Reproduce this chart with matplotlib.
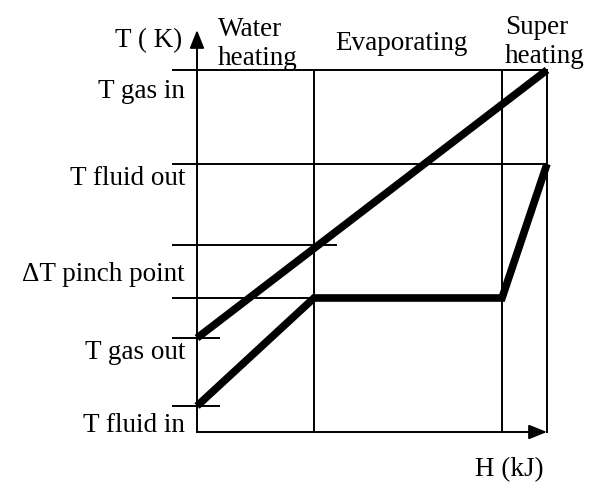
import matplotlib.pyplot as plt

# diagrama T-H da caldeira de recuperacao (valores esquematicos)
zonas = ['Water\nheating', 'Evaporating', 'Super\nheating']
H_pontos = [0, 117, 305, 350]          # inicio, inicio evaporacao, fim evaporacao, fim
gas_H = [0, 350]
gas_T = [94, 362]
fluido_H = [0, 117, 305, 350]
fluido_T = [26, 134, 134, 268]

rotulos_T = ['T gas in', 'T fluid out', '\u0394T pinch point', 'T gas out', 'T fluid in']
T_gas_in = 362
T_fluid_out = 268
T_gas_pinch = 187
T_pinch = 134
T_gas_out = 94
T_fluid_in = 26

plt.rcParams['font.family'] = ['Liberation Serif', 'DejaVu Serif']
fig = plt.figure(figsize=(5.96, 4.86), dpi=100)
ax = fig.add_axes([0, 0, 1, 1])
ax.set_xlim(-197, 399)
ax.set_ylim(-54, 432)
ax.axis('off')

fino = dict(color='black', lw=1.4)
x_esq = -24

# linhas guia horizontais
ax.plot([x_esq, H_pontos[3]], [T_gas_in, T_gas_in], **fino)
ax.plot([x_esq, H_pontos[3]], [T_fluid_out, T_fluid_out], **fino)
ax.plot([x_esq, 139], [T_gas_pinch, T_gas_pinch], **fino)
ax.plot([x_esq, H_pontos[1]], [T_pinch, T_pinch], **fino)
ax.plot([x_esq, 22], [T_gas_out, T_gas_out], **fino)
ax.plot([x_esq, 22], [T_fluid_in, T_fluid_in], **fino)

# linhas verticais das zonas
ax.plot([H_pontos[1], H_pontos[1]], [0, T_gas_in], **fino)
ax.plot([H_pontos[2], H_pontos[2]], [0, T_gas_in], **fino)
ax.plot([H_pontos[3], H_pontos[3]], [0, gas_T[-1]], **fino)

# eixos com setas
seta = dict(arrowstyle='-|>,head_length=0.55,head_width=0.22', color='black',
            lw=1.4, shrinkA=0, shrinkB=0, mutation_scale=20)
ax.annotate('', xy=(0, 402), xytext=(0, 0), arrowprops=seta)
ax.annotate('', xy=(H_pontos[3], 0), xytext=(0, 0), arrowprops=seta)

# curvas do gas e do fluido
ax.plot(gas_H, gas_T, color='black', lw=5.5, solid_capstyle='butt')
ax.plot(fluido_H, fluido_T, color='black', lw=5.5, solid_capstyle='butt', solid_joinstyle='miter')

fs = 19.5
ax.text(-15, 385, 'T ( K)', ha='right', va='baseline', fontsize=fs)
ax.text(-197 + 475, -44, 'H (kJ)', ha='left', va='baseline', fontsize=fs)

# nomes das zonas (baseline da ultima linha)
ax.text(21, 367, zonas[0], ha='left', va='baseline', fontsize=fs, linespacing=1.2)
ax.text(204, 382, zonas[1], ha='center', va='baseline', fontsize=fs)
ax.text(308, 369, zonas[2], ha='left', va='baseline', fontsize=fs, linespacing=1.2)

# rotulos de temperatura
for rot, y in zip(rotulos_T, [334, 247, 151, 73, 0]):
    ax.text(-12, y, rot, ha='right', va='baseline', fontsize=fs)

plt.savefig('out.png', dpi=100)
